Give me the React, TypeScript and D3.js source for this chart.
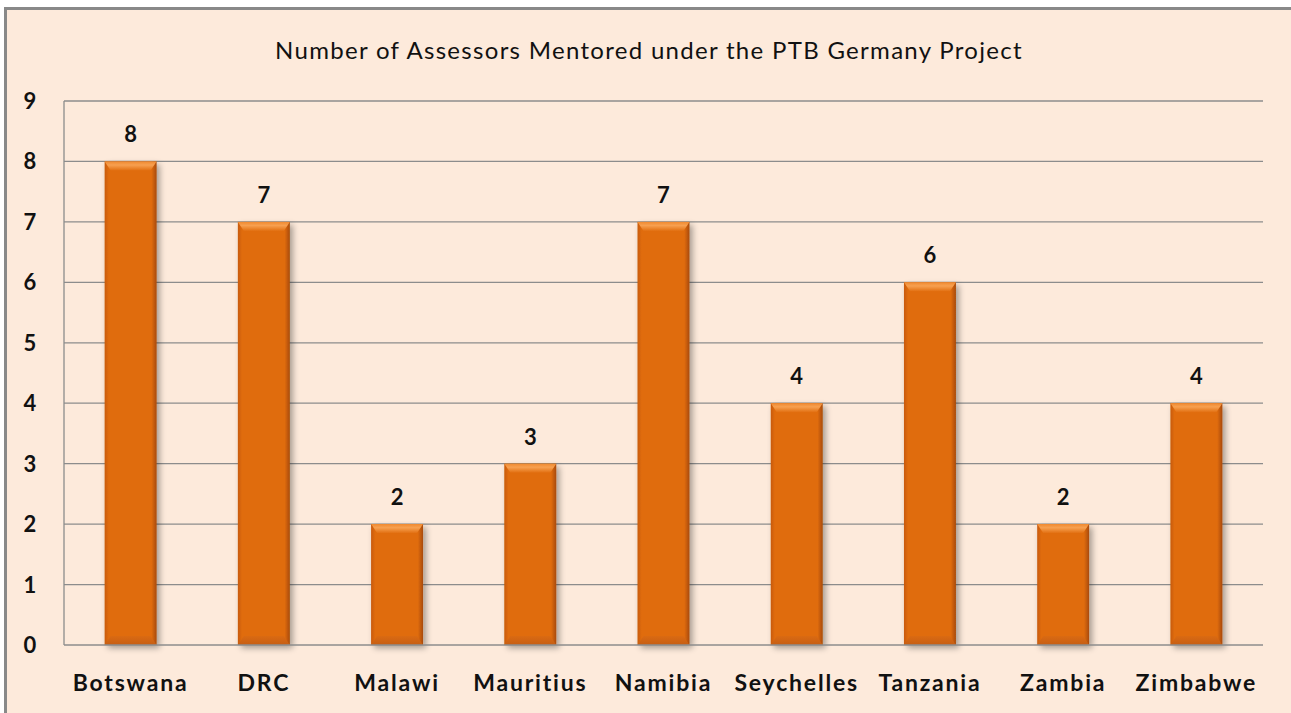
import React from "react";
import * as d3 from "d3";

const categories = ["Botswana", "DRC", "Malawi", "Mauritius", "Namibia", "Seychelles", "Tanzania", "Zambia", "Zimbabwe"];
const values = [8, 7, 2, 3, 7, 4, 6, 2, 4];
const yTicks = [0, 1, 2, 3, 4, 5, 6, 7, 8, 9];
const title = "Number of Assessors Mentored under the PTB Germany Project";

const W = 1291, H = 713;
const M = { left: 64, right: 1263, top: 101, bottom: 645 };
const FONT = "Lato, 'Open Sans', sans-serif";

export default function App() {
  const x = d3.scaleBand().domain(categories).range([M.left, M.right]).paddingInner(0.61).paddingOuter(0.305);
  const y = d3.scaleLinear().domain([0, 9]).range([M.bottom, M.top]);
  const bw = x.bandwidth();
  return (
    <svg width={W} height={H} style={{ position: "absolute", left: 0, top: 0 }}>
      <defs>
        <linearGradient id="side" x1="0" x2="1" y1="0" y2="0">
          <stop offset="0" stopColor="#c85a08" />
          <stop offset="0.08" stopColor="#e06c10" />
          <stop offset="0.9" stopColor="#e06c10" />
          <stop offset="1" stopColor="#a84a06" />
        </linearGradient>
        <linearGradient id="topg" x1="0" x2="0" y1="0" y2="1">
          <stop offset="0" stopColor="#f08a30" />
          <stop offset="0.4" stopColor="#f7a050" />
          <stop offset="1" stopColor="#e27012" />
        </linearGradient>
        <linearGradient id="botg" x1="0" x2="0" y1="0" y2="1">
          <stop offset="0" stopColor="#da6a12" />
          <stop offset="1" stopColor="#c65e14" />
        </linearGradient>
        <filter id="sh" x="-20%" y="-5%" width="150%" height="115%">
          <feGaussianBlur in="SourceAlpha" stdDeviation="3" />
          <feOffset dx="3" dy="3" result="b" />
          <feComponentTransfer><feFuncA type="linear" slope="0.35" /></feComponentTransfer>
          <feMerge><feMergeNode /><feMergeNode in="SourceGraphic" /></feMerge>
        </filter>
      </defs>
      <rect x={0} y={0} width={W} height={H} fill="#ffffff" />
      <rect x={5.5} y={8.5} width={W + 10} height={H + 10} fill="#fdeadb" stroke="#898989" strokeWidth={3} />
      <text x={649} y={59} textAnchor="middle" fontFamily={FONT} fontSize={24} letterSpacing={1.3} fill="#111">{title}</text>
      {yTicks.map((t) => (
        <g key={t}>
          {t > 0 && <line x1={M.left} x2={M.right} y1={y(t)} y2={y(t)} stroke="#8c8c8c" strokeWidth={1.3} />}
          <text x={30} y={y(t) + 8} textAnchor="middle" fontFamily={FONT} fontWeight={700} fontSize={22} fill="#111">{t}</text>
        </g>
      ))}
      <line x1={M.left} x2={M.left} y1={M.top} y2={M.bottom} stroke="#8c8c8c" strokeWidth={1.3} />
      {categories.map((c, i) => {
        const bx = x(c)!;
        const by = y(values[i]);
        return (
          <g key={c}>
            <g filter="url(#sh)">
              <rect x={bx} y={by} width={bw} height={y(0) - by} fill="url(#side)" />
            </g>
            <path d={`M${bx},${by} L${bx + bw},${by} L${bx + bw - 6},${by + 9} L${bx + 6},${by + 9} Z`} fill="url(#topg)" />
            <path d={`M${bx},${y(0)} L${bx + bw},${y(0)} L${bx + bw - 6},${y(0) - 9} L${bx + 6},${y(0) - 9} Z`} fill="url(#botg)" />
            <text x={bx + bw / 2} y={by - 19} textAnchor="middle" fontFamily={FONT} fontWeight={700} fontSize={22} fill="#111">{values[i]}</text>
            <text x={bx + bw / 2} y={691} textAnchor="middle" fontFamily={FONT} fontWeight={700} fontSize={23} letterSpacing={1.8} fill="#111">{c}</text>
          </g>
        );
      })}
      <line x1={M.left} x2={M.right} y1={M.bottom} y2={M.bottom} stroke="#8c8c8c" strokeWidth={1.3} />
    </svg>
  );
}
